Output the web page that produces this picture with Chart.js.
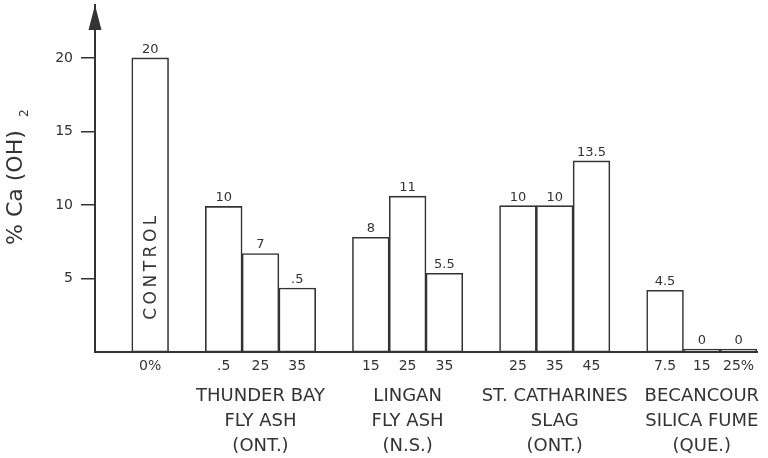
<!DOCTYPE html>
<html>
<head>
<meta charset="utf-8">
<script src="https://cdn.jsdelivr.net/npm/chart.js@4"></script>
<style>html,body{margin:0;padding:0;background:#fff}canvas{display:block}</style>
</head>
<body>
<canvas id="c" width="768" height="458"></canvas>
<script>
// data (blank slots = gaps between groups)
const categories = ["","0%","",".5","25","35","","15","25","35","","25","35","45","","7.5","15","25%"];
const groupNames = ["","","","",["THUNDER BAY","FLY ASH","(ONT.)"],"","","",["LINGAN","FLY ASH","(N.S.)"],"","","",
  ["ST. CATHARINES","SLAG","(ONT.)"],"","","",["BECANCOUR","SILICA FUME","(QUE.)"],""];
const values = [null,20,null,9.9,6.7,4.35,null,7.8,10.6,5.35,null,9.95,9.95,13,null,4.2,0,0];
const valueLabels = ["","20","","10","7",".5","","8","11","5.5","","10","10","13.5","","4.5","0","0"];
const yTicks = [5,10,15,20];

const ink = "#333";
Chart.defaults.font.family = "'DejaVu Sans', sans-serif";

// value labels, CONTROL text, axis arrow and y title
const marks = {
  id: "marks",
  afterDatasetsDraw(chart){
    const ctx = chart.ctx, meta = chart.getDatasetMeta(0);
    ctx.save();
    ctx.fillStyle = ink;
    ctx.font = "13px 'DejaVu Sans'";
    ctx.textAlign = "center";
    meta.data.forEach((b,i)=>{
      if(values[i]==null) return;
      ctx.fillText(valueLabels[i], b.x, b.y-5);
    });
    const c = meta.data[1];
    ctx.translate(c.x+1, c.base-86);
    ctx.rotate(-Math.PI/2);
    ctx.font = "17px 'DejaVu Sans'";
    ctx.letterSpacing = "3.5px";
    ctx.textBaseline = "middle";
    ctx.fillText("CONTROL", 0, 0);
    ctx.restore();
  },
  afterDraw(chart){
    const ctx = chart.ctx, a = chart.chartArea;
    ctx.save();
    ctx.fillStyle = ink;
    ctx.beginPath();
    ctx.moveTo(a.left, a.top);
    ctx.lineTo(a.left-6.5, a.top+25);
    ctx.lineTo(a.left+6.5, a.top+25);
    ctx.closePath();
    ctx.fill();
    // y title
    ctx.translate(16, 245);
    ctx.rotate(-Math.PI/2);
    ctx.textBaseline = "middle";
    ctx.textAlign = "left";
    ctx.font = "22px 'DejaVu Sans'";
    ctx.fillText("% Ca (OH)", 0, 0);
    ctx.font = "12px 'DejaVu Sans'";
    ctx.fillText("2", 128, 9);
    ctx.restore();
  }
};

new Chart(document.getElementById("c"), {
  type: "bar",
  data: {
    labels: categories,
    datasets: [{
      data: values,
      backgroundColor: "#fff",
      borderColor: ink,
      borderWidth: 1.6,
      borderSkipped: false,
      barPercentage: 1,
      categoryPercentage: 1,
      minBarLength: 3,
      xAxisID: "x",
      yAxisID: "y"
    }]
  },
  options: {
    responsive: false,
    animation: false,
    events: [],
    layout: { padding: { top: 5, right: 11, left: 0, bottom: 0 } },
    plugins: { legend: { display: false }, tooltip: { enabled: false } },
    scales: {
      x: {
        position: "bottom", weight: 0,
        grid: { display: false, drawTicks: false },
        border: { display: true, color: ink, width: 2 },
        ticks: { autoSkip: false, maxRotation: 0, color: ink, font: { size: 14 }, padding: 6 },
        afterFit(s){ s.height = 28; }
      },
      x2: {
        type: "category", labels: groupNames,
        position: "bottom", weight: 1,
        grid: { display: false, drawTicks: false },
        border: { display: false },
        ticks: { autoSkip: false, maxRotation: 0, color: ink, font: { size: 18, lineHeight: 25/18 }, padding: 4 },
        afterFit(s){ s.height = 78; }
      },
      y: {
        min: 0, max: 23.6,
        afterBuildTicks(s){ s.ticks = yTicks.map(v=>({ value: v })); },
        grid: { display: true, drawOnChartArea: false, drawTicks: true, tickLength: 14, color: ink, lineWidth: 1.5 },
        border: { display: true, color: ink, width: 2 },
        ticks: { color: ink, font: { size: 14 }, padding: 8 },
        afterFit(s){ s.width = 95; s.paddingTop = 0; s.paddingBottom = 0; }
      }
    }
  },
  plugins: [marks]
});
</script>
</body>
</html>
